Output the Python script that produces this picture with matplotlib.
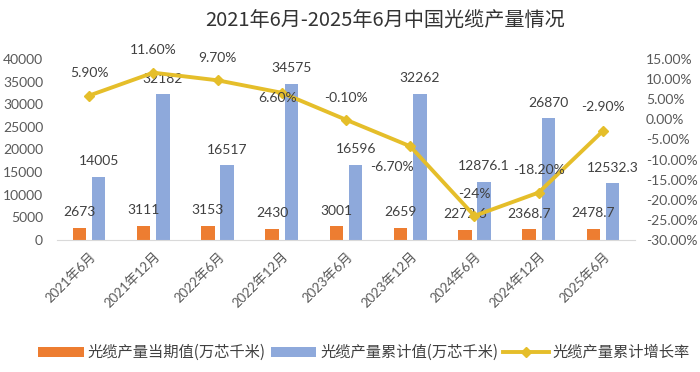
import numpy as np
import matplotlib.pyplot as plt

plt.rcParams['font.family'] = ['Lato', 'Noto Sans CJK SC', 'DejaVu Sans']

# data
periods = ['2021年6月', '2021年12月', '2022年6月', '2022年12月', '2023年6月',
           '2023年12月', '2024年6月', '2024年12月', '2025年6月']
current_vals = [2673, 3111, 3153, 2430, 3001, 2659, 2272.6, 2368.7, 2478.7]
cumulative_vals = [14005, 32182, 16517, 34575, 16596, 32262, 12876.1, 26870, 12532.3]
growth_pct = [5.90, 11.60, 9.70, 6.60, -0.10, -6.70, -24, -18.20, -2.90]
growth_text = ['5.90%', '11.60%', '9.70%', '6.60%', '-0.10%', '-6.70%', '-24%',
               '-18.20%', '-2.90%']

# label offsets (points) for the growth labels, mostly placed above the marker
growth_offsets = [(0, 16), (0, 16), (0, 16), (-3, -4), (0, 16), (-13, -15),
                  (0, 16), (0, 16), (0, 17)]

orange = '#ED7D31'
blue = '#8EA9DB'
gold = '#E5BE2A'
grey = '#595959'

fig = plt.figure(figsize=(7, 3.72), dpi=100)
ax = fig.add_axes([57 / 700, 1 - 240 / 372, 578 / 700, 181 / 372])
ax2 = ax.twinx()

x = np.arange(len(periods))
w = 0.21
ax.bar(x - 0.15, current_vals, w, color=orange, label='光缆产量当期值(万芯千米)')
ax.bar(x + 0.15, cumulative_vals, w, color=blue, label='光缆产量累计值(万芯千米)')

for i in range(len(x)):
    ax.annotate(f'{current_vals[i]:g}', (x[i] - 0.15, current_vals[i]),
                xytext=(0, 7), textcoords='offset points', ha='center',
                va='bottom', fontsize=10, color='#404040')
    ax.annotate(f'{cumulative_vals[i]:g}', (x[i] + 0.15, cumulative_vals[i]),
                xytext=(0, 7), textcoords='offset points', ha='center',
                va='bottom', fontsize=10, color='#404040')

ax2.plot(x, growth_pct, color=gold, lw=2.8, marker='D', ms=5,
         label='光缆产量累计增长率')
for i in range(len(x)):
    ax2.annotate(growth_text[i], (x[i], growth_pct[i]),
                 xytext=growth_offsets[i], textcoords='offset points',
                 ha='center', va='center', fontsize=10, color='#404040')

ax.set_xlim(-0.5, len(x) - 0.5)
ax.set_ylim(0, 40000)
ax.set_yticks(np.arange(0, 40001, 5000))
ax2.set_ylim(-30, 15)
ax2.set_yticks(np.arange(-30, 16, 5))
ax2.set_yticklabels([f'{v:.2f}%' for v in np.arange(-30, 16, 5)])

ax.set_xticks(x)
ax.set_xticklabels(periods, rotation=45, ha='right', rotation_mode='anchor',
                   fontsize=9.5, color=grey)
ax.tick_params(axis='x', length=0, pad=7)
ax.tick_params(axis='y', length=0, labelsize=10, labelcolor=grey, pad=10)
ax2.tick_params(axis='y', length=0, labelsize=10, labelcolor=grey, pad=8)

for a in (ax, ax2):
    for s in ('top', 'left', 'right'):
        a.spines[s].set_visible(False)
ax.spines['bottom'].set_color('#D9D9D9')
ax2.spines['bottom'].set_visible(False)

fig.text(0.55, 0.943, '2021年6月-2025年6月中国光缆产量情况', ha='center',
         va='center', fontsize=14.5, color='#333333',
         family=['Noto Sans CJK SC', 'DejaVu Sans'])

h1, l1 = ax.get_legend_handles_labels()
h2, l2 = ax2.get_legend_handles_labels()
fig.legend(h1 + h2, l1 + l2, loc='center', bbox_to_anchor=(0.52, 0.052),
           ncol=3, frameon=False, handlelength=3.0,
           handleheight=0.6, columnspacing=0.3, handletextpad=0.25,
           labelcolor='#404040',
           prop={'family': ['Noto Sans CJK SC', 'DejaVu Sans'], 'size': 11})

fig.savefig('out.png', dpi=100, facecolor='white')
